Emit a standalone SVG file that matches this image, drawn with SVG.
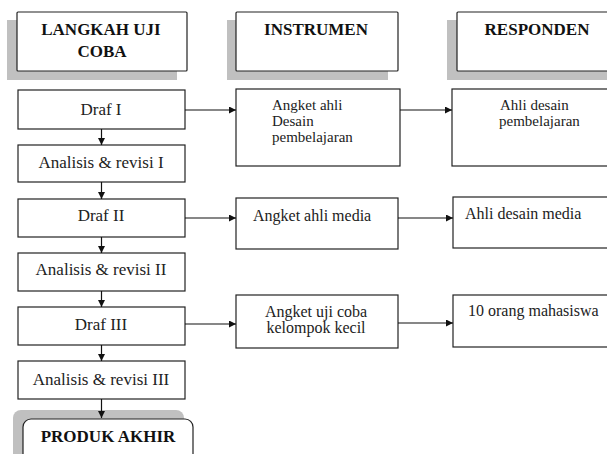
<svg xmlns="http://www.w3.org/2000/svg" width="607" height="454" viewBox="0 0 607 454">
<defs>
<style>
.box{fill:#fff;stroke:#222;stroke-width:1.2}
.shadow{fill:#c0c0c0}
.hdr{font-family:"Liberation Serif","Times New Roman",serif;font-weight:bold;font-size:17px;fill:#111;text-anchor:middle}
.t{font-family:"Liberation Serif","Times New Roman",serif;font-size:17px;fill:#222;text-anchor:middle}
.tl{font-family:"Liberation Serif","Times New Roman",serif;font-size:16px;fill:#222}
.ts{font-family:"Liberation Serif","Times New Roman",serif;font-size:15px;fill:#222}
.tc{font-family:"Liberation Serif","Times New Roman",serif;font-size:16px;fill:#222;text-anchor:middle}
.c{stroke:#111;stroke-width:1.2;fill:none;marker-end:url(#ah)}
</style>
<marker id="ah" viewBox="0 0 10 10" refX="10" refY="5" markerWidth="8" markerHeight="7" markerUnits="userSpaceOnUse" orient="auto">
<path d="M0,0 L10,5 L0,10 z" fill="#111"/>
</marker>
</defs>
<rect width="607" height="454" fill="#fff"/>

<g id="h1">
<rect class="shadow" x="7" y="20" width="170" height="60"/>
<rect class="box" x="17" y="12" width="170" height="59" rx="1"/>
<text class="hdr" x="101" y="35">LANGKAH UJI</text>
<text class="hdr" x="102" y="57">COBA</text>
</g>
<g id="h2">
<rect class="shadow" x="227" y="20" width="161" height="60"/>
<rect class="box" x="236" y="12" width="162" height="59" rx="1"/>
<text class="hdr" x="316" y="35">INSTRUMEN</text>
</g>
<g id="h3">
<rect class="shadow" x="447" y="20" width="170" height="60"/>
<rect class="box" x="457" y="12" width="160" height="59" rx="1"/>
<text class="hdr" x="537" y="35">RESPONDEN</text>
</g>

<g id="draf1">
<rect class="box" x="18" y="90" width="167" height="39"/>
<text class="t" x="101" y="115">Draf  I</text>
</g>
<g id="analisis1">
<rect class="box" x="18" y="145" width="167" height="37"/>
<text class="t" x="101" y="168">Analisis  &amp; revisi I</text>
</g>
<g id="draf2">
<rect class="box" x="18" y="199" width="167" height="38"/>
<text class="t" x="101" y="221">Draf II</text>
</g>
<g id="analisis2">
<rect class="box" x="18" y="253" width="167" height="38"/>
<text class="t" x="101" y="275">Analisis &amp; revisi II</text>
</g>
<g id="draf3">
<rect class="box" x="18" y="307" width="167" height="38"/>
<text class="t" x="101" y="330">Draf III</text>
</g>
<g id="analisis3">
<rect class="box" x="18" y="361" width="167" height="38"/>
<text class="t" x="101" y="385">Analisis &amp; revisi III</text>
</g>
<g id="produk">
<rect class="shadow" x="13" y="410" width="171" height="60" rx="8"/>
<rect class="box" x="23" y="419" width="170" height="50" rx="8"/>
<text class="hdr" x="108" y="442">PRODUK AKHIR</text>
</g>

<g id="inst1">
<rect class="box" x="236" y="89" width="164" height="77"/>
<text class="ts" x="272" y="110">Angket ahli</text>
<text class="ts" x="272" y="126">Desain</text>
<text class="ts" x="272" y="142">pembelajaran</text>
</g>
<g id="inst2">
<rect class="box" x="236" y="198" width="162" height="51"/>
<text class="tl" x="253" y="221">Angket ahli media</text>
</g>
<g id="inst3">
<rect class="box" x="236" y="295" width="162" height="53"/>
<text class="tc" x="316" y="317">Angket uji coba</text>
<text class="tc" x="316" y="333">kelompok kecil</text>
</g>

<g id="resp1">
<rect class="box" x="452" y="89" width="165" height="77"/>
<text class="ts" x="500" y="110">Ahli desain</text>
<text class="ts" x="499" y="126">pembelajaran</text>
</g>
<g id="resp2">
<rect class="box" x="453" y="197" width="164" height="51"/>
<text class="tl" x="465" y="219">Ahli desain media</text>
</g>
<g id="resp3">
<rect class="box" x="453" y="295" width="164" height="52"/>
<text class="tl" x="468" y="316">10 orang mahasiswa</text>
</g>

<g id="connectors">
<line class="c" x1="101.5" y1="129" x2="101.5" y2="145"/>
<line class="c" x1="101.5" y1="182" x2="101.5" y2="199"/>
<line class="c" x1="101.5" y1="237" x2="101.5" y2="253"/>
<line class="c" x1="101.5" y1="291" x2="101.5" y2="307"/>
<line class="c" x1="101.5" y1="345" x2="101.5" y2="361"/>
<line class="c" x1="101.5" y1="399" x2="101.5" y2="418"/>
<line class="c" x1="185" y1="110" x2="236" y2="110"/>
<line class="c" x1="400" y1="110" x2="452" y2="110"/>
<line class="c" x1="185" y1="218" x2="236" y2="218"/>
<line class="c" x1="398" y1="218" x2="453" y2="218"/>
<line class="c" x1="185" y1="324" x2="236" y2="324"/>
<line class="c" x1="398" y1="323" x2="453" y2="323"/>
</g>
</svg>
